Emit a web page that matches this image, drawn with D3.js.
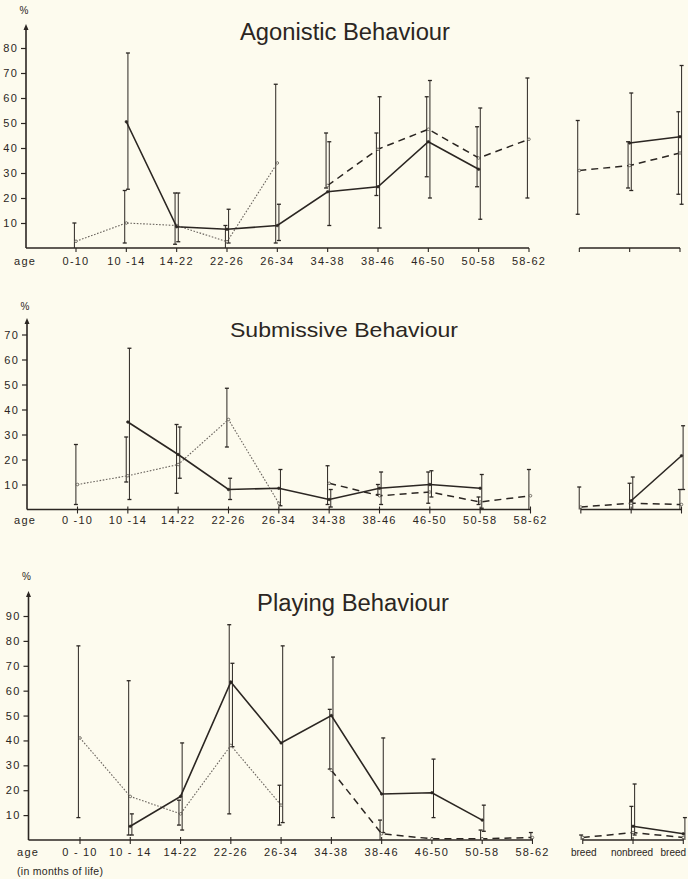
<!DOCTYPE html>
<html><head><meta charset="utf-8">
<script src="https://cdn.jsdelivr.net/npm/d3@7"></script>
<style>body{margin:0;background:#fdfbee;} svg{display:block}</style>
</head><body><svg id="c" width="688" height="879"></svg>
<script>
// ---------- DATA ----------
const categories = ["0-10","10-14","14-22","22-26","26-34","34-38","38-46","46-50","50-58","58-62","breed","nonbreed","breed"];
const ageLabelsA = ["0-10","10 -14","14-22","22-26","26-34","34-38","38-46","46-50","50-58","58-62","","",""];
const ageLabelsS = ["0 -10","10 -14","14-22","22-26","26-34","34-38","38-46","46-50","50-58","58-62","","",""];
const ageLabelsP = ["0 - 10","10 - 14","14-22","22-26","26-34","34-38","38-46","46-50","50-58","58-62","breed","nonbreed","breed"];
const titles = ["Agonistic Behaviour","Submissive Behaviour","Playing Behaviour"];
const yTicksA = [10,20,30,40,50,60,70,80];
const yTicksS = [10,20,30,40,50,60,70];
const yTicksP = [10,20,30,40,50,60,70,80,90];

const N = null;
// Agonistic
const agSolid   = [N,50.5,8.5,7.5,9,22.5,24.5,42.5,31.5,N,N,42,44.5];
const agSolidLo = [N,23.5,2.5,2,3,9,8,20,11.5,N,N,23,17.5];
const agSolidHi = [N,78,22,15.5,17.5,42.5,60.5,67,56,N,N,62,73];
const agDot     = [2.7,10,9,2.5,34,N,N,N,N,N,N,N,N];
const agDotLo   = [0,2,1.5,0,2,N,N,N,N,N,N,N,N];
const agDotHi   = [10,23,22,9,65.5,N,N,N,N,N,N,N,N];
const agDash    = [N,N,N,N,N,25,39.5,47.5,36,43.5,31,33,38];
const agDashLo  = [N,N,N,N,N,24,21,28.5,24.5,20,13.5,24,21.5];
const agDashHi  = [N,N,N,N,N,46,46,60.5,48.5,68,51,42.5,54.5];
// Submissive
const suSolid   = [N,35,22,8,8.5,4,8.5,10,8.5,N,N,3.5,21.5];
const suSolidLo = [N,4,12.5,4,1.5,1,2,5,0.5,N,N,0,8];
const suSolidHi = [N,64.5,33,12.5,16,8,15,15.5,14,N,N,13,33.5];
const suDot     = [10,13.5,18,36,2.5,N,N,N,N,N,N,N,N];
const suDotLo   = [2,11,6.5,25,N,N,N,N,N,N,N,N,N];
const suDotHi   = [26,29,34,48.5,N,N,N,N,N,N,N,N,N];
const suDash    = [N,N,N,N,N,10.5,5.5,7,3,5.5,1,2.5,2];
const suDashLo  = [N,N,N,N,N,2,6,2.5,2,0,0,0,0];
const suDashHi  = [N,N,N,N,N,17.5,10,15,5,16,9,10.5,8];
// Playing
const plSolid   = [N,5.5,17.5,63.5,39,50,18.5,19,8,N,N,5.5,2.5];
const plSolidLo = [N,2,4,37.5,7,9,3,9,3.5,N,N,2,0];
const plSolidHi = [N,10.5,39,71,78,73.5,41,32.5,14,N,N,22.5,9];
const plDot     = [41,17.5,10.5,38,14,N,N,N,N,N,N,N,N];
const plDotLo   = [9,2,6,10.5,6,N,N,N,N,N,N,N,N];
const plDotHi   = [78,64,16,86.5,22,N,N,N,N,N,N,N,N];
const plDash    = [N,N,N,N,N,28,2.5,0.5,0.5,1,1,3,1];
const plDashLo  = [N,N,N,N,N,28.5,0,N,0,0,0,0,0];
const plDashHi  = [N,N,N,N,N,52.5,8,N,4,3,2,13.5,N];

// ---------- LAYOUT ----------
const INK = "#2b2622";
const FONT = "Liberation Sans, Arial, sans-serif";
const panels = [
  {title:titles[0], tSize:23, tX:345, tY:40, tLen:210, labels:ageLabelsA, yTicks:yTicksA, yMax:80,
   y0:248, yTop:48, xAxis:26, arrowTop:24, x0:76, x1:680, labY:265, pctY:14,
   series:[{v:agDot,lo:agDotLo,hi:agDotHi,kind:"dot"},{v:agDash,lo:agDashLo,hi:agDashHi,kind:"dash"},{v:agSolid,lo:agSolidLo,hi:agSolidHi,kind:"solid"}]},
  {title:titles[1], tSize:21, tX:344, tY:337, tLen:228, labels:ageLabelsS, yTicks:yTicksS, yMax:70,
   y0:509.5, yTop:334.5, xAxis:27, arrowTop:318, x0:77.5, x1:681.5, labY:524, pctY:310,
   series:[{v:suDot,lo:suDotLo,hi:suDotHi,kind:"dot"},{v:suDash,lo:suDashLo,hi:suDashHi,kind:"dash"},{v:suSolid,lo:suSolidLo,hi:suSolidHi,kind:"solid"}]},
  {title:titles[2], tSize:23, tX:353, tY:611, tLen:192, labels:ageLabelsP, yTicks:yTicksP, yMax:90,
   y0:840, yTop:616, xAxis:28.5, arrowTop:591, x0:80, x1:683.3, labY:856, pctY:580,
   series:[{v:plDot,lo:plDotLo,hi:plDotHi,kind:"dot"},{v:plDash,lo:plDashLo,hi:plDashHi,kind:"dash"},{v:plSolid,lo:plSolidLo,hi:plSolidHi,kind:"solid"}]}
];
// label x-shifts for the tightly packed breed / nonbreed / breed labels
const breedShift = [0,0,0,0,0,0,0,0,0,0,1,-1,-10];

const svg = d3.select("#c");
svg.append("rect").attr("width",688).attr("height",879).attr("fill","#fdfbee");

const styles = {
  solid:{stroke:INK, w:1.6, dash:null, off:1.6},
  dash:{stroke:INK, w:1.5, dash:"7,5", off:-1.6},
  dot:{stroke:"#6a645e", w:1.1, dash:"1.6,1.6", off:-1.6}
};

panels.forEach((p, pi) => {
  const g = svg.append("g");
  const x = d3.scaleLinear().domain([0, categories.length-1]).range([p.x0, p.x1]);
  const y = d3.scaleLinear().domain([0, p.yMax]).range([p.y0, p.yTop]);

  // title
  g.append("text").attr("x",p.tX).attr("y",p.tY).attr("text-anchor","middle")
    .attr("font-family",FONT).attr("font-size",p.tSize)
    .attr("fill",INK).attr("textLength",p.tLen).attr("lengthAdjust","spacingAndGlyphs").text(p.title);

  // y axis
  const ya = d3.axisLeft(y).tickValues(p.yTicks).tickSize(5).tickPadding(3).tickFormat(d3.format("d"));
  const yg = g.append("g").attr("transform",`translate(${p.xAxis},0)`).call(ya);
  yg.select(".domain").remove();
  yg.selectAll("line").attr("stroke",INK).attr("stroke-width",1.2);
  yg.selectAll("text").attr("font-family",FONT).attr("font-size",11)
    .attr("letter-spacing","1.2px").attr("fill",INK);
  g.append("line").attr("x1",p.xAxis).attr("x2",p.xAxis).attr("y1",p.y0).attr("y2",p.arrowTop+3)
    .attr("stroke",INK).attr("stroke-width",1.6);
  g.append("path").attr("d",`M${p.xAxis-2.5},${p.arrowTop+6}L${p.xAxis},${p.arrowTop}L${p.xAxis+2.5},${p.arrowTop+6}Z`).attr("fill",INK);
  g.append("text").attr("x",p.xAxis-2).attr("y",p.pctY).attr("text-anchor","middle")
    .attr("font-family",FONT).attr("font-size",10).attr("fill",INK).text("%");

  // x baseline (two groups)
  g.append("line").attr("x1",p.xAxis).attr("x2",x(9)).attr("y1",p.y0).attr("y2",p.y0).attr("stroke",INK).attr("stroke-width",1.6);
  g.append("line").attr("x1",x(10)).attr("x2",x(12)).attr("y1",p.y0).attr("y2",p.y0).attr("stroke",INK).attr("stroke-width",1.6);
  categories.forEach((c,i) => {
    g.append("line").attr("x1",x(i)).attr("x2",x(i)).attr("y1",p.y0-(pi===0?0:3)).attr("y2",p.y0+4)
      .attr("stroke",INK).attr("stroke-width",1.1);
  });
  // x labels
  g.append("text").attr("x",pi===2?17:14).attr("y",p.labY).attr("font-family",FONT)
    .attr("font-size",11).attr("letter-spacing","1.3px").attr("fill",INK).text("age");
  p.labels.forEach((l,i) => {
    if (!l) return;
    const isBreed = i >= 10;
    g.append("text").attr("x",x(i) + breedShift[i]).attr("y",p.labY).attr("text-anchor","middle")
      .attr("font-family",FONT).attr("font-size",isBreed?10:11)
      .attr("letter-spacing",isBreed?"0px":"1.2px").attr("fill",INK).text(l);
  });
  if (pi===2) {
    g.append("text").attr("x",17).attr("y",p.labY+19).attr("font-family",FONT)
      .attr("font-size",10.5).attr("letter-spacing","0.3px").attr("fill",INK).text("(in months of life)");
  }

  // error bars
  p.series.forEach(s => {
    const st = styles[s.kind];
    s.v.forEach((v,i) => {
      if (s.lo[i]==null || s.hi[i]==null) return;
      const xx = x(i) + st.off;
      g.append("line").attr("x1",xx).attr("x2",xx).attr("y1",y(s.lo[i])).attr("y2",y(s.hi[i]))
        .attr("stroke",INK).attr("stroke-width",1);
      [s.lo[i], s.hi[i]].forEach(e => {
        if (e <= 0.01) return;
        g.append("line").attr("x1",xx-2).attr("x2",xx+2).attr("y1",y(e)).attr("y2",y(e))
          .attr("stroke",INK).attr("stroke-width",1.3);
      });
    });
  });

  // lines (two groups: age classes and breed/nonbreed)
  const line = d3.line().defined(d => d.v != null).x(d => x(d.i)).y(d => y(d.v));
  p.series.forEach(s => {
    const st = styles[s.kind];
    [[0,9],[10,12]].forEach(([a,b]) => {
      const pts = s.v.map((v,i)=>({v,i})).filter(d => d.i>=a && d.i<=b);
      g.append("path").attr("d",line(pts)).attr("fill","none").attr("stroke",st.stroke)
        .attr("stroke-width",st.w).attr("stroke-dasharray",st.dash);
    });
    s.v.forEach((v,i) => {
      if (v==null) return;
      g.append("circle").attr("cx",x(i)).attr("cy",y(v)).attr("r",1.3)
        .attr("fill",s.kind==="solid"?INK:"#fdfbee").attr("stroke",INK).attr("stroke-width",0.6);
    });
  });
});
</script></body></html>
